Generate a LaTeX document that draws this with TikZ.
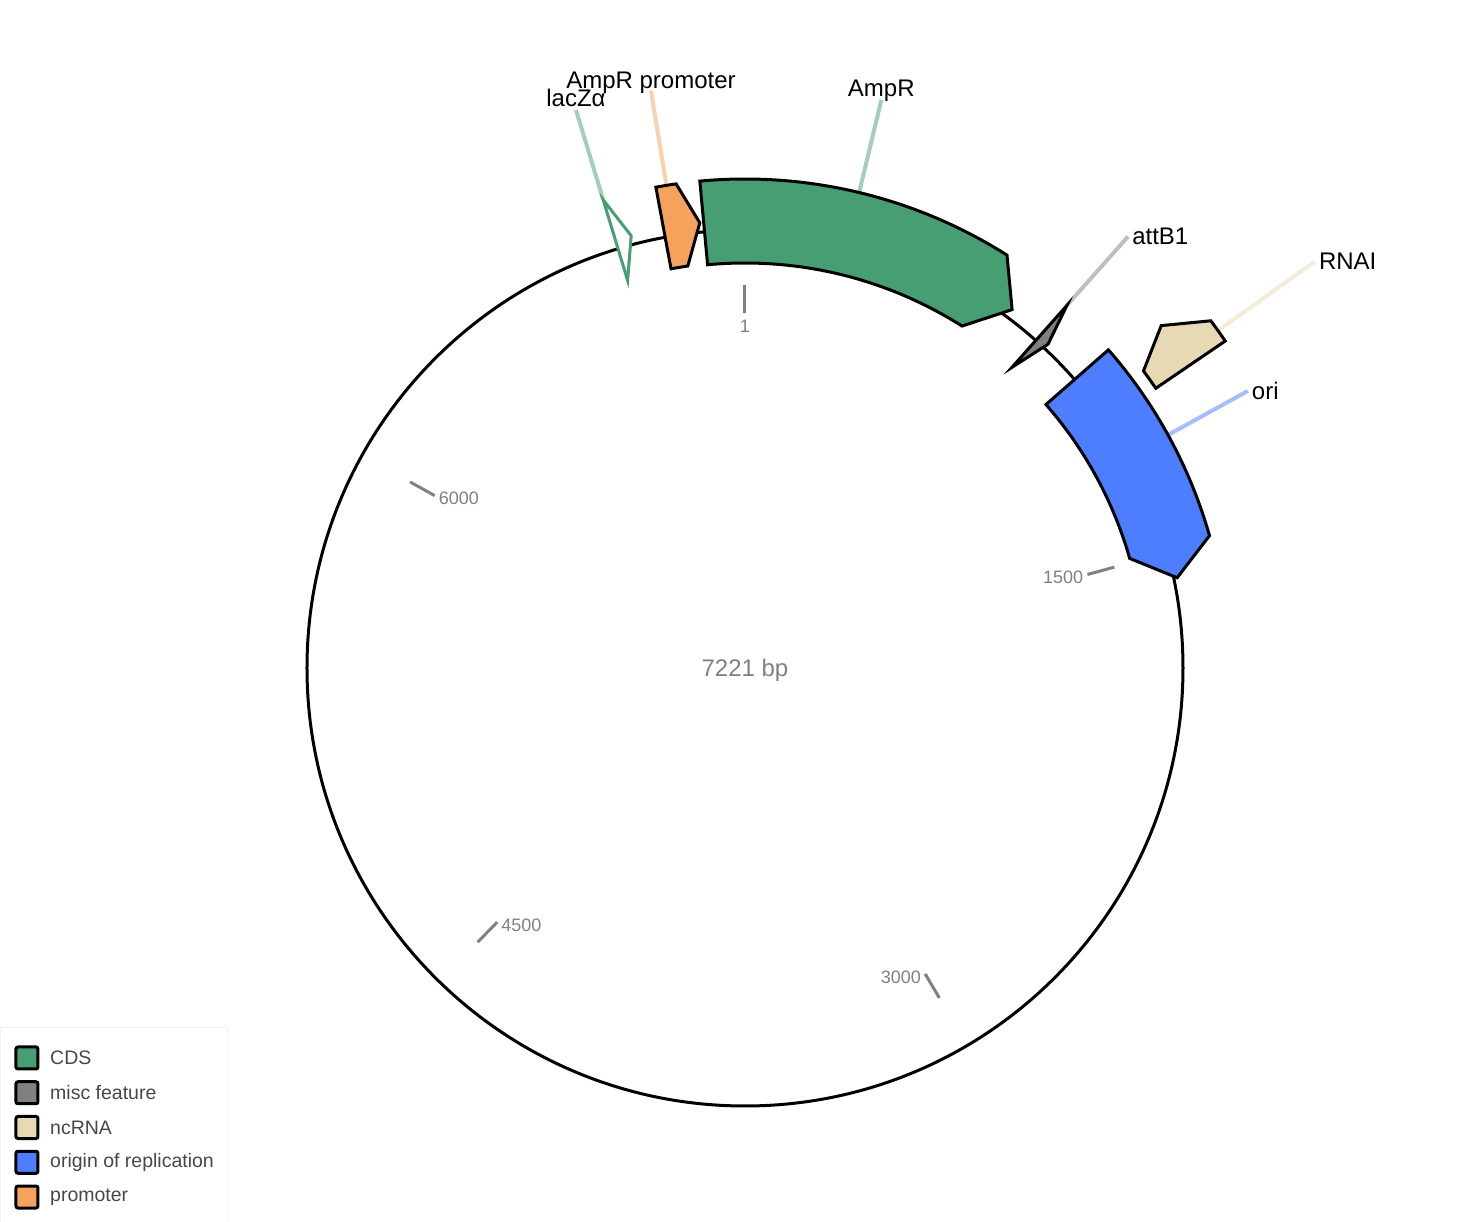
\documentclass[tikz,border=0pt]{standalone}
\usepackage{fontspec}
\setmainfont{Liberation Sans}
\definecolor{cdsgreen}{HTML}{479E72}
\definecolor{miscgray}{HTML}{808080}
\definecolor{ncrnabeige}{HTML}{E6D9B3}
\definecolor{oriblue}{HTML}{4D7EFF}
\definecolor{promorange}{HTML}{F5A35C}
\colorlet{tick gray}{black!50}
\colorlet{legend text}{black!72}
% name/start/end/tip/inner/outer/kind, degrees clockwise from the top
\def\features{{lacZ/-16.85/-16.85/-14.75/405/489/cdsopen}, {AmpRprom/-10.5/-8.1/-5.8/406/489/prom}, {AmpR/-5.3/32.4/36.7/405/489/cds}, {attB1/41.6/41.6/43.1/402/485/misc}, {ori/48.8/74.1/78.2/400/483/orirep}, {RNAI/55.75/53.3/50.56/497/581/ncrna}}
% name/angle/from/to/colour/text/placement
\def\labels{{lacZ/-16.85/490/583/cdsgreen!50/lacZα/toplabel}, {AmpRprom/-9.25/489/585/promorange!50/AmpR promoter/promlabel}, {AmpR/13.5/489/584/cdsgreen!50/AmpR/toplabel}, {attB1/41.6/485/577/miscgray!50/attB1/sidelabel}, {RNAI/54.5/577/700/ncrnabeige!50/RNAI/sidelabel}, {ori/61.15/482/574/oriblue!50/ori/sidelabel}}
\tikzset{
  feature/.style={draw=black, line width=3pt, line join=miter},
  cds/.style={fill=cdsgreen},
  cdsopen/.style={fill=white, draw=cdsgreen},
  prom/.style={fill=promorange},
  misc/.style={fill=miscgray},
  orirep/.style={fill=oriblue},
  ncrna/.style={fill=ncrnabeige},
  toplabel/.style={anchor=base, yshift=4pt, inner sep=0pt},
  promlabel/.style={anchor=base, yshift=2pt, inner sep=0pt},
  sidelabel/.style={anchor=west, inner sep=4pt}
  }
\tikzstyle{backbone} = [draw, line width=3pt]
\tikzstyle{leader} = [draw, line width=4pt]
\tikzstyle{feat label} = [font=\fontsize{24}{28}\selectfont, text=black]
\tikzstyle{tick} = [draw=tick gray, line width=3pt]
\tikzstyle{tick label} = [font=\fontsize{18}{21}\selectfont, text=tick gray, inner sep=4pt, yshift=-3pt]
\tikzstyle{legend box} = [draw=black, line width=3pt, rounded corners=2pt]
\tikzstyle{legend label} = [font=\fontsize{19.5}{23}\selectfont, text=legend text, anchor=west, inner sep=0pt]

\begin{document}
\begin{tikzpicture}[x=1pt, y=1pt]
  \useasboundingbox (-745,-554) rectangle (714,668);

  % The backbone and its length
  \path[backbone] (0,0) circle[radius=438pt];
  \node[font=\fontsize{24}{28}\selectfont, text=tick gray, yshift=-2pt] (length) at (0,0) {7221 bp};

  % Ticks along the backbone
  \foreach \bp/\side in {1/north, 1500/east, 3000/east, 4500/west, 6000/west} {
    \pgfmathsetmacro\ang{90-360/7221*(\bp-1)}
    \coordinate (tick-\bp-a) at (\ang:383);
    \coordinate (tick-\bp-b) at (\ang:355);
    \path[tick] (tick-\bp-a) -- (tick-\bp-b);
    \node[tick label, anchor=\side] (tick-\bp) at (tick-\bp-b) {\bp};
  }

  % The lines to the labels
  \foreach \name/\ang/\from/\to/\col/\txt/\place in \labels {
    \coordinate (\name-in) at ({90-\ang}:\from);
    \coordinate (\name-out) at ({90-\ang}:\to);
    \path[leader, draw=\col] (\name-in) -- (\name-out);
    \node[feat label, \place] (\name-label) at (\name-out) {\txt};
  }

  % The features themselves
  \foreach \name/\start/\stop/\tip/\rin/\rout/\kind in \features {
    \pgfmathsetmacro\rmid{(\rin+\rout)/2}
    \path[feature, \kind] ({90-\start}:\rin) -- ({90-\start}:\rout)
      arc[start angle=90-\start, end angle=90-\stop, radius=\rout pt]
      -- ({90-\tip}:\rmid) -- ({90-\stop}:\rin)
      arc[start angle=90-\stop, end angle=90-\start, radius=\rin pt] -- cycle;
  }

  % Legend
  \path[draw=black!5, line width=1pt] (-744,-360) rectangle (-517,-560);
  \foreach \kind/\txt [count=\i] in {cds/CDS, misc/misc feature, ncrna/ncRNA, orirep/origin of replication, prom/promoter} {
    \pgfmathsetmacro\ypos{-390-34.75*(\i-1)}
    \path[legend box, \kind] (-729,\ypos-11) rectangle (-707,\ypos+11);
    \node[legend label] (legend-\kind) at (-695,\ypos) {\txt};
  }
\end{tikzpicture}
\end{document}
